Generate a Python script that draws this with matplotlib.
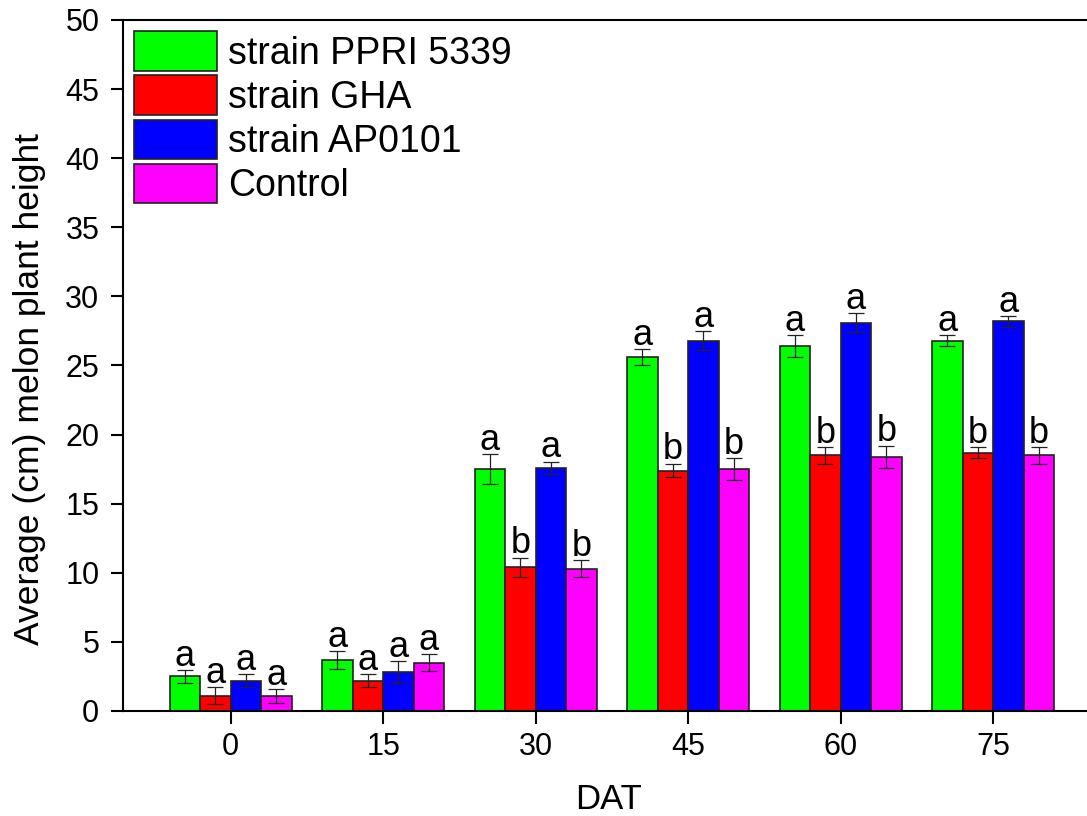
import matplotlib
matplotlib.use("Agg")
import matplotlib.pyplot as plt
import numpy as np

plt.rcParams['font.family'] = ['Liberation Sans', 'DejaVu Sans']

days = [0, 15, 30, 45, 60, 75]
series_names = ["strain PPRI 5339", "strain GHA", "strain AP0101", "Control"]
colors = ["#00ff00", "#ff0000", "#0000ff", "#ff00ff"]

ppri = [2.5, 3.7, 17.5, 25.6, 26.4, 26.8]
gha = [1.1, 2.2, 10.4, 17.4, 18.5, 18.7]
ap0101 = [2.2, 2.8, 17.6, 26.8, 28.1, 28.2]
control = [1.1, 3.5, 10.3, 17.5, 18.4, 18.5]

ppri_err = [0.45, 0.65, 1.1, 0.6, 0.8, 0.4]
gha_err = [0.6, 0.5, 0.7, 0.5, 0.6, 0.4]
ap0101_err = [0.5, 0.8, 0.45, 0.7, 0.7, 0.4]
control_err = [0.5, 0.6, 0.6, 0.8, 0.8, 0.6]

ppri_let = ["a", "a", "a", "a", "a", "a"]
gha_let = ["a", "a", "b", "b", "b", "b"]
ap0101_let = ["a", "a", "a", "a", "a", "a"]
control_let = ["a", "a", "b", "b", "b", "b"]

values = [ppri, gha, ap0101, control]
errors = [ppri_err, gha_err, ap0101_err, control_err]
letters = [ppri_let, gha_let, ap0101_let, control_let]

fig = plt.figure(figsize=(10.87, 8.16), dpi=100)
ax = fig.add_axes([0.1131, 0.1287, 0.9409, 0.8468])

bw = 3.0
x = np.array(days, dtype=float)
for i, (vals, errs, lets) in enumerate(zip(values, errors, letters)):
    xi = x + (i - 1.5) * bw
    ax.bar(xi, vals, width=bw, color=colors[i], edgecolor="#222222",
           linewidth=1.2, label=series_names[i], zorder=2)
    ax.errorbar(xi, vals, yerr=errs, fmt="none", ecolor="#222222",
                elinewidth=0.9, capsize=6, capthick=0.9, zorder=3)
    for xx, v, e, l in zip(xi, vals, errs, lets):
        ax.annotate(l, (xx, v + e), xytext=(0, 3), textcoords="offset points",
                    ha="center", va="baseline", fontsize=26, color="black")

ax.set_xlim(-10.6, 90)
ax.set_ylim(0, 50)
ax.set_xticks(days)
ax.set_yticks(np.arange(0, 51, 5))
ax.tick_params(axis="both", direction="out", length=9, width=1.5,
               labelsize=22, colors="black")
ax.tick_params(axis="x", pad=6)
ax.tick_params(axis="y", pad=8)
for s in ["left", "bottom", "top"]:
    ax.spines[s].set_linewidth(1.5)
ax.spines["right"].set_visible(False)

ax.set_xlabel("DAT", fontsize=25, va="center")
ax.xaxis.set_label_coords(0.4747, -0.1288)
ax.set_ylabel("Average (cm) melon plant height", fontsize=25.5, va="center")
ax.yaxis.set_label_coords(-0.091, 0.466)

ax.legend(loc="upper left", bbox_to_anchor=(0.0, 1.0), frameon=False,
          fontsize=27, handlelength=2.2, handleheight=1.25,
          labelspacing=0.1, handletextpad=0.3, borderaxespad=0.2,
          borderpad=0.1)

fig.savefig("out.png", dpi=100)
